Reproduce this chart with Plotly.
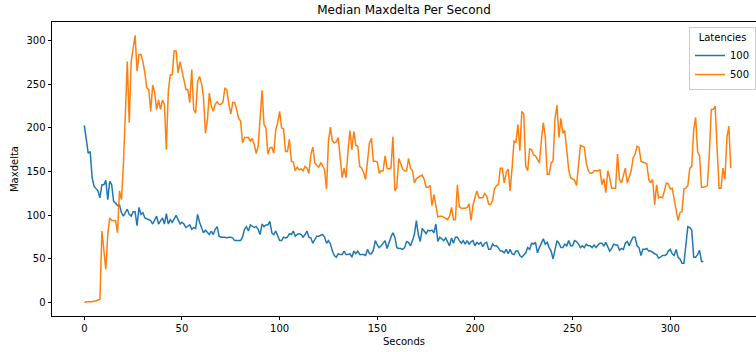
import plotly.graph_objects as go

# ---- data ----
series_names = ["100", "500"]

maxdelta_100 = [
    203, 187, 171, 173, 143, 133, 130, 128, 120, 135,
    135, 140, 118, 139, 135, 116, 114, 111, 112, 103,
    99, 103, 107, 101, 99, 104, 104, 88, 109, 101,
    103, 97, 96, 95, 94, 90, 95, 99, 90, 94,
    97, 90, 102, 90, 95, 92, 96, 100, 95, 90,
    92, 90, 86, 88, 89, 84, 86, 85, 101, 92,
    86, 80, 83, 80, 78, 82, 78, 84, 87, 76,
    75, 75, 75, 74, 75, 75, 74, 71, 71, 71,
    71, 75, 84, 87, 82, 89, 87, 86, 87, 84,
    78, 90, 87, 89, 89, 93, 80, 78, 82, 76,
    71, 71, 75, 74, 75, 79, 78, 82, 76, 78,
    79, 78, 75, 78, 82, 75, 74, 68, 72, 76,
    76, 77, 78, 75, 68, 71, 67, 59, 54, 52,
    56, 55, 55, 59, 55, 55, 56, 52, 59, 56,
    59, 55, 55, 55, 54, 61, 56, 56, 60, 71,
    66, 63, 65, 68, 71, 62, 70, 75, 80, 75,
    63, 62, 62, 61, 63, 70, 69, 65, 71, 78,
    94, 78, 70, 85, 82, 79, 83, 82, 83, 80,
    90, 70, 75, 73, 71, 74, 69, 65, 74, 68,
    75, 75, 71, 68, 71, 67, 71, 67, 70, 71,
    65, 69, 67, 69, 64, 68, 69, 61, 61, 67,
    65, 65, 63, 59, 59, 57, 61, 56, 61, 56,
    55, 59, 59, 54, 52, 54, 57, 63, 61, 68,
    67, 69, 57, 63, 68, 73, 67, 69, 63, 59,
    50, 63, 71, 68, 63, 63, 67, 65, 71, 65,
    65, 71, 70, 67, 63, 65, 63, 67, 65, 65,
    63, 66, 63, 66, 68, 68, 65, 69, 63, 59,
    62, 67, 66, 66, 60, 62, 61, 68, 70, 65,
    71, 75, 75, 65, 63, 54, 61, 61, 62, 59,
    59, 57, 56, 55, 51, 52, 54, 54, 55, 59,
    61, 56, 54, 61, 52, 50, 45, 45, 63, 87,
    86, 83, 52, 52, 55, 60, 47, 47,
]

maxdelta_500 = [
    0, 1, 1, 1, 1, 2, 2, 3, 4, 82,
    55, 38, 78, 97, 94, 94, 94, 80, 128, 118,
    158, 215, 276, 206, 276, 291, 306, 265, 284, 284,
    276, 263, 246, 244, 219, 249, 241, 221, 232, 221,
    232, 227, 175, 242, 261, 261, 288, 288, 263, 276,
    267, 255, 244, 244, 229, 267, 221, 217, 253, 259,
    251, 236, 194, 208, 240, 225, 219, 227, 230, 227,
    227, 230, 246, 243, 227, 216, 229, 229, 221, 211,
    208, 183, 189, 189, 189, 185, 188, 181, 171, 179,
    208, 243, 204, 200, 170, 177, 178, 171, 198, 206,
    219, 200, 199, 173, 173, 187, 162, 161, 151, 155,
    152, 153, 151, 156, 154, 148, 170, 178, 160, 158,
    155, 160, 157, 152, 130, 185, 201, 185, 183, 184,
    189, 166, 143, 154, 143, 173, 197, 175, 196, 180,
    179, 156, 154, 149, 141, 162, 183, 188, 162, 162,
    161, 148, 151, 151, 168, 154, 153, 154, 190, 128,
    132, 165, 158, 153, 151, 151, 165, 154, 151, 137,
    142, 144, 145, 146, 141, 132, 132, 134, 111, 124,
    111, 98, 99, 99, 98, 96, 95, 99, 109, 95,
    95, 135, 110, 108, 108, 108, 109, 113, 94, 112,
    120, 128, 120, 120, 120, 125, 122, 113, 112, 117,
    130, 134, 135, 154, 154, 137, 149, 153, 128, 154,
    185, 184, 204, 174, 219, 216, 156, 151, 176, 175,
    169, 168, 164, 160, 185, 206, 190, 147, 147, 160,
    162, 211, 226, 189, 211, 194, 197, 177, 152, 143,
    141, 140, 134, 158, 180, 179, 178, 160, 151, 148,
    148, 151, 151, 151, 152, 135, 142, 126, 151, 143,
    131, 131, 131, 170, 141, 137, 145, 154, 137, 143,
    151, 166, 170, 179, 178, 162, 161, 160, 159, 141,
    137, 141, 112, 135, 120, 121, 120, 128, 137, 136,
    130, 131, 118, 105, 94, 103, 104, 130, 131, 134,
    154, 156, 198, 212, 173, 168, 132, 132, 133, 134,
    170, 221, 221, 225, 176, 131, 131, 154, 141, 189,
    202, 154,
]

seconds_100 = list(range(len(maxdelta_100)))
seconds_500 = list(range(len(maxdelta_500)))

x_ticks = [0, 50, 100, 150, 200, 250, 300]
y_ticks = [0, 50, 100, 150, 200, 250, 300]

colors = ["#1f77b4", "#ff7f0e"]

fig = go.Figure()
for name, xs, ys, c in [
    (series_names[0], seconds_100, maxdelta_100, colors[0]),
    (series_names[1], seconds_500, maxdelta_500, colors[1]),
]:
    fig.add_trace(go.Scatter(x=xs, y=ys, mode="lines", name=name,
                             line=dict(color=c, width=1.5)))

axis_common = dict(
    showgrid=False, zeroline=False, showline=True, linecolor="black",
    linewidth=0.8, ticks="outside", ticklen=3.5, tickwidth=0.8,
    tickcolor="black", tickfont=dict(size=10, color="black"),
)

fig.update_layout(
    width=756, height=352,
    margin=dict(l=52, r=0, t=22, b=36),
    paper_bgcolor="white", plot_bgcolor="white",
    font=dict(family="DejaVu Sans", size=10, color="black"),
    title=dict(text="Median Maxdelta Per Second", x=0.5, xref="paper",
               xanchor="center", y=1 - 10 / 352, yref="container",
               yanchor="middle", font=dict(size=12, color="black")),
    xaxis=dict(range=[-16.55, 343.9], tickvals=x_ticks, mirror=True,
               title=dict(text="Seconds", standoff=4, font=dict(size=10)),
               **axis_common),
    yaxis=dict(range=[-15.3, 321.3], tickvals=y_ticks,
               title=dict(text="Maxdelta", standoff=6, font=dict(size=10)),
               **axis_common),
    legend=dict(x=1.0, xanchor="right", y=0.983, yanchor="top",
                bgcolor="rgba(255,255,255,0.8)", bordercolor="#cccccc",
                borderwidth=1, font=dict(size=10),
                title=dict(text="Latencies", side="top center",
                           font=dict(size=10)),
                tracegroupgap=0, itemwidth=30),
    showlegend=True,
)

fig.write_html("out.html")
